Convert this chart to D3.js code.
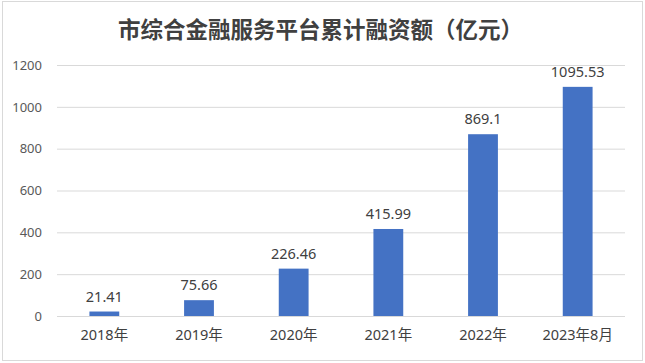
<!DOCTYPE html>
<html>
<head>
<meta charset="utf-8">
<script src="https://cdn.jsdelivr.net/npm/d3@7"></script>
<style>
  body { margin: 0; background: #fff; }
  svg { display: block; }
</style>
</head>
<body>
<div id="chart"></div>
<script>
const categories = ['2018年', '2019年', '2020年', '2021年', '2022年', '2023年8月']
const values = [21.41, 75.66, 226.46, 415.99, 869.1, 1095.53]
const valueLabels = ['21.41', '75.66', '226.46', '415.99', '869.1', '1095.53']
const yTicks = [0, 200, 400, 600, 800, 1000, 1200]
const title = '市综合金融服务平台累计融资额（亿元）'

const canvasWidth = 645
const canvasHeight = 363
const margins = {top: 65, right: 20, bottom: 47, left: 57}
const width = canvasWidth - margins.left - margins.right
const height = canvasHeight - margins.top - margins.bottom
const font = '"Noto Sans", "Noto Sans CJK SC", sans-serif'

const root = d3
  .select('#chart')
  .append('svg')
  .attr('width', canvasWidth)
  .attr('height', canvasHeight)

// chart border
root
  .append('rect')
  .attr('x', 2.5)
  .attr('y', 1.5)
  .attr('width', 640)
  .attr('height', 359)
  .attr('fill', '#fff')
  .attr('stroke', '#d9d9d9')

root
  .append('text')
  .attr('x', canvasWidth / 2 - 2)
  .attr('y', 38)
  .attr('text-anchor', 'middle')
  .attr('font-family', '"Noto Sans CJK SC", sans-serif')
  .attr('font-size', 22.5)
  .attr('font-weight', 'bold')
  .attr('fill', '#404040')
  .text(title)

const svg = root
  .append('g')
  .attr('transform', `translate(${margins.left}, ${margins.top})`)

const xScale = d3
  .scaleBand()
  .domain(categories)
  .range([0, width])
  .paddingInner(0.685)
  .paddingOuter(0.3425)

const yScale = d3
  .scaleLinear()
  .domain([0, 1200])
  .range([height, 0])

// gridlines
svg
  .append('g')
  .call(
    d3
      .axisLeft(yScale)
      .tickValues(yTicks)
      .tickSize(-width)
      .tickFormat(''),
  )
  .call(g => g.select('.domain').remove())
  .call(g => g.selectAll('line').attr('stroke', '#d9d9d9'))

// y labels
svg
  .append('g')
  .call(
    d3
      .axisLeft(yScale)
      .tickValues(yTicks)
      .tickFormat(d3.format('d'))
      .tickSize(0)
      .tickPadding(15),
  )
  .call(g => g.select('.domain').remove())
  .call(g =>
    g
      .selectAll('text')
      .attr('font-family', font)
      .attr('font-size', 13)
      .attr('fill', '#595959'),
  )

// x labels
svg
  .append('g')
  .attr('transform', `translate(0, ${height})`)
  .call(d3.axisBottom(xScale).tickSize(0).tickPadding(14))
  .call(g => g.select('.domain').remove())
  .call(g =>
    g
      .selectAll('text')
      .attr('font-family', font)
      .attr('font-size', 14.5)
      .attr('fill', '#404040'),
  )

svg
  .selectAll('rect.bar')
  .data(values)
  .enter()
  .append('rect')
  .attr('class', 'bar')
  .attr('x', (d, i) => xScale(categories[i]))
  .attr('y', d => yScale(d))
  .attr('width', xScale.bandwidth())
  .attr('height', d => height - yScale(d))
  .attr('fill', '#4472c4')

svg
  .selectAll('text.value')
  .data(values)
  .enter()
  .append('text')
  .attr('class', 'value')
  .attr('x', (d, i) => xScale(categories[i]) + xScale.bandwidth() / 2)
  .attr('y', d => yScale(d) - 10)
  .attr('text-anchor', 'middle')
  .attr('font-family', font)
  .attr('font-size', 14.5)
  .attr('fill', '#404040')
  .text((d, i) => valueLabels[i])
</script>
</body>
</html>
